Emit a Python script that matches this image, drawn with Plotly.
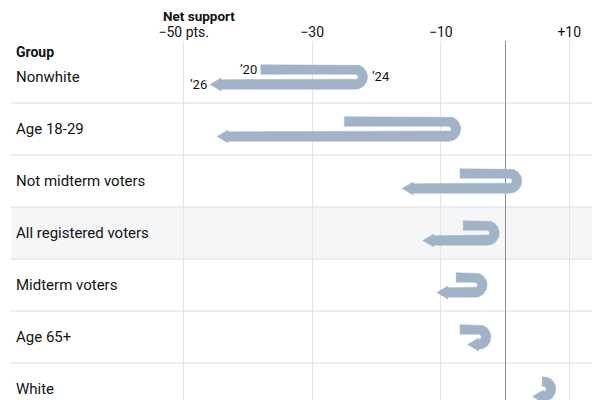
import numpy as np
import plotly.graph_objects as go

# ---- data ----
groups = ["Nonwhite", "Age 18-29", "Not midterm voters", "All registered voters",
          "Midterm voters", "Age 65+", "White"]
net_2020 = [-38.0, -25.0, -7.0, -6.5, -7.6, -7.0, 5.8]
net_2024 = [-23.3, -8.8, 0.7, -2.8, -4.7, -4.1, 6.0]
net_2026 = [-45.9, -44.8, -16.0, -12.8, -10.6, -5.8, 4.3]
tick_vals = [-50, -30, -10, 10]
tick_text = ["\u221250 pts.", "\u221230", "\u221210", "+10"]
year_labels = ["\u201920", "\u201924", "\u201926"]
shaded_group = "All registered voters"

# ---- geometry helpers (pixel sizes converted through axis scales) ----
W, H = 600, 400
OFF = 8  # page body margin offset
ML, MR, MT, MB = 0, 0, 41 - OFF, 0
x_range = [-77.35, 16.03]
y_range = [6.365, -0.692]
px_per_x = (W - ML - MR) / (x_range[1] - x_range[0])
px_per_y = (H - MT - MB) / (y_range[0] - y_range[1])

LANE = 7.5     # lane offset from row centre (px)
HW = 4.75      # half stroke width (px)
HEAD_L = 11.0  # arrow head length (px)
HEAD_H = 6.5   # arrow head half height (px)
COLOR = "#a1b3c6"


def arrow_polygon(v20, v24, v26, row):
    def P(v, dxp, dyp):
        return v + dxp / px_per_x, row + dyp / px_per_y
    pts = []
    ro, ri = LANE + HW, LANE - HW
    pts.append(P(v20, 0, -ro))
    pts.append(P(v24, 0, -ro))
    for t in np.linspace(-np.pi / 2, np.pi / 2, 40):
        pts.append(P(v24, ro * np.cos(t), ro * np.sin(t)))
    xb_px = (v26 - v24) * px_per_x + HEAD_L
    xb_px = min(xb_px, 0.0)
    tip_px = xb_px - HEAD_L
    pts.append(P(v24, xb_px, ro))
    pts.append(P(v24, xb_px, LANE + HEAD_H))
    pts.append(P(v24, tip_px, LANE))
    pts.append(P(v24, xb_px, LANE - HEAD_H))
    pts.append(P(v24, xb_px, ri))
    pts.append(P(v24, 0, ri))
    for t in np.linspace(np.pi / 2, -np.pi / 2, 30):
        pts.append(P(v24, ri * np.cos(t), ri * np.sin(t)))
    pts.append(P(v20, 0, -ri))
    pts.append(P(v20, 0, -ro))
    xs, ys = zip(*pts)
    return list(xs), list(ys)


fig = go.Figure()
for i, g in enumerate(groups):
    xs, ys = arrow_polygon(net_2020[i], net_2024[i], net_2026[i], i)
    fig.add_trace(go.Scatter(x=xs, y=ys, mode="lines", fill="toself",
                             fillcolor=COLOR, line=dict(color=COLOR, width=0.5),
                             hoverinfo="skip", showlegend=False))

TXT = "#121212"
FONT = "Roboto, Arial, sans-serif"

shapes = []
x0p, x1p = (11 - OFF) / W, (595 - OFF) / W
for i, g in enumerate(groups):
    if g == shaded_group:
        shapes.append(dict(type="rect", xref="paper", yref="y", x0=x0p, x1=x1p,
                           y0=i - 0.5, y1=i + 0.5, fillcolor="#f5f6f8",
                           line=dict(width=0), layer="below"))
for i in range(len(groups) - 1):
    shapes.append(dict(type="line", xref="paper", yref="y", x0=x0p, x1=x1p,
                       y0=i + 0.5, y1=i + 0.5, line=dict(color="#dedede", width=1),
                       layer="below"))

annotations = []
lab_x = (16 - OFF - 2) / W
for i, g in enumerate(groups):
    annotations.append(dict(text=g, xref="paper", yref="y", x=lab_x, y=i,
                            xanchor="left", yanchor="middle", showarrow=False,
                            font=dict(size=15, color=TXT, family=FONT)))
annotations.append(dict(text="<b>Group</b>", xref="paper", yref="paper", x=lab_x,
                        y=(H - (52 - OFF)) / (H - MT), xanchor="left", yanchor="middle",
                        showarrow=False, font=dict(size=14, color=TXT, family=FONT)))
annotations.append(dict(text="<b>Net support</b>", xref="paper", yref="paper",
                        x=(163 - OFF - 2) / W,
                        y=H / (H - MT), xanchor="left", yanchor="top", yshift=2,
                        showarrow=False, font=dict(size=13.5, color=TXT, family=FONT)))
annotations.append(dict(text=year_labels[0], x=net_2020[0], y=0, xanchor="right",
                        yanchor="middle", yshift=LANE, xshift=-2, showarrow=False,
                        font=dict(size=13, color=TXT, family=FONT)))
annotations.append(dict(text=year_labels[1], x=net_2024[0], y=0, xanchor="left",
                        yanchor="middle", xshift=LANE + HW + 2, showarrow=False,
                        font=dict(size=13, color=TXT, family=FONT)))
annotations.append(dict(text=year_labels[2], x=net_2026[0], y=0, xanchor="right",
                        yanchor="middle", yshift=-LANE, xshift=-1, showarrow=False,
                        font=dict(size=13, color=TXT, family=FONT)))

fig.update_layout(
    width=W, height=H,
    margin=dict(l=ML, r=MR, t=MT, b=MB, pad=0),
    paper_bgcolor="white", plot_bgcolor="rgba(0,0,0,0)",
    xaxis=dict(range=x_range, side="top", tickvals=tick_vals, ticktext=tick_text,
               showgrid=True, gridcolor="#e3e3e3", gridwidth=1,
               zeroline=True, zerolinecolor="#8c8c8c", zerolinewidth=1.2,
               ticks="", ticklabelstandoff=0,
               tickfont=dict(size=14, color=TXT, family=FONT),
               showline=False, fixedrange=True),
    yaxis=dict(range=y_range, showticklabels=False, showgrid=False, zeroline=False,
               fixedrange=True),
    shapes=shapes, annotations=annotations,
)
fig.write_html("out.html")
